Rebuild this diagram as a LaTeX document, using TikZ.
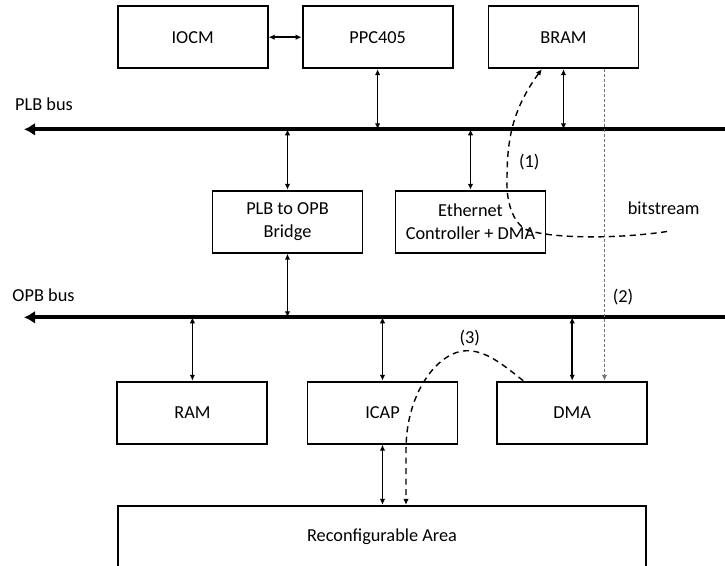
\documentclass[tikz,border=0pt]{standalone}
\usepackage{fontspec}
\setmainfont{Carlito}
\usetikzlibrary{arrows.meta,positioning}

\begin{document}
\begin{tikzpicture}[
  x=1pt,y=-1pt,
  >={Latex[length=6pt,width=5.5pt]},
  font=\fontsize{18.3}{23}\selectfont,
  block/.style={draw,line width=1.9pt,minimum width=150pt,minimum height=62pt,align=center,inner sep=0pt},
  tag/.style={inner sep=0pt},
  link/.style={<->,line width=1.6pt},
  bus/.style={line width=3.8pt,{Latex[length=11pt,width=13pt]}-{Latex[length=11pt,width=13pt]}},
  flow/.style={->,line width=1.4pt,dash pattern=on 6pt off 4.5pt},
  tap/.style={->,black!55,line width=1.3pt,dash pattern=on 3pt off 2pt}
]
  \clip (0,0) rectangle (725,565);
  \node[block] (iocm) at (192.7,37.2) {IOCM};
  \node[block,right=33pt of iocm] (ppc) {PPC405};
  \node[block,right=34pt of ppc] (bram) {BRAM};
  \node[block] (bridge) at (287.5,221.7) {PLB to OPB\\Bridge};
  \node[block] (eth) at (470.5,221.7) {Ethernet\\Controller + DMA};
  \node[block] (ram) at (192.4,412.7) {RAM};
  \node[block] (icap) at (382.5,412.7) {ICAP};
  \node[block] (dma) at (572.2,412.7) {DMA};
  \node[block,minimum width=528pt] (reconf) at (382,536.8) {Reconfigurable Area};

  % buses
  \coordinate (plbL) at (24,129.3);
  \coordinate (plbR) at (736,129.3);
  \coordinate (opbL) at (24,317.3);
  \coordinate (opbR) at (736,317.3);
  \node[tag,anchor=base west] (plbtxt) at (15,110) {PLB bus};
  \node[tag,anchor=base west] (opbtxt) at (12.3,301.7) {OPB bus};

  \draw[link] (iocm) -- (ppc);
  \draw[link] (ppc) -- (ppc |- plbL);
  \draw[link] (bram) -- (bram |- plbL);
  \draw[link] (bridge) -- (bridge |- plbL);
  \draw[link] (eth) -- (eth |- plbL);
  \draw[link] (bridge) -- (bridge |- opbL);
  \draw[link] (ram) -- (ram |- opbL);
  \draw[link] (icap) -- (icap |- opbL);
  \draw[link] (dma) -- (dma |- opbL);
  \draw[link] (icap) -- (icap |- reconf.north);

  \draw[bus] (plbL) -- (plbR);
  \draw[bus] (opbL) -- (opbR);

  % reconfiguration paths
  \coordinate (tapB) at ([xshift=41pt]bram.south);
  \draw[tap] (tapB) -- (tapB |- dma.north);
  \coordinate (bitsrc) at (667,231.5);
  \draw[flow] (bitsrc) .. controls (620,238.5) and (560,239) .. (530,231)
    .. controls (515,227) and (506,205) .. (507,180)
    .. controls (507,140) and (512,110) .. ([xshift=-21.7pt]bram.south);
  \draw[flow] ([xshift=-49pt]dma.north) .. controls (500,362) and (485,350.7) .. (466.7,350.7)
    .. controls (440,350.7) and (406,390) .. (406,450) -- ([xshift=24pt]reconf.north);

  \node (bits) at (663.7,208) {bitstream};
  \node (step1) at (529.3,162.5) {(1)};
  \node (step2) at (623,297) {(2)};
  \node (step3) at (469.7,337.8) {(3)};
\end{tikzpicture}
\end{document}
